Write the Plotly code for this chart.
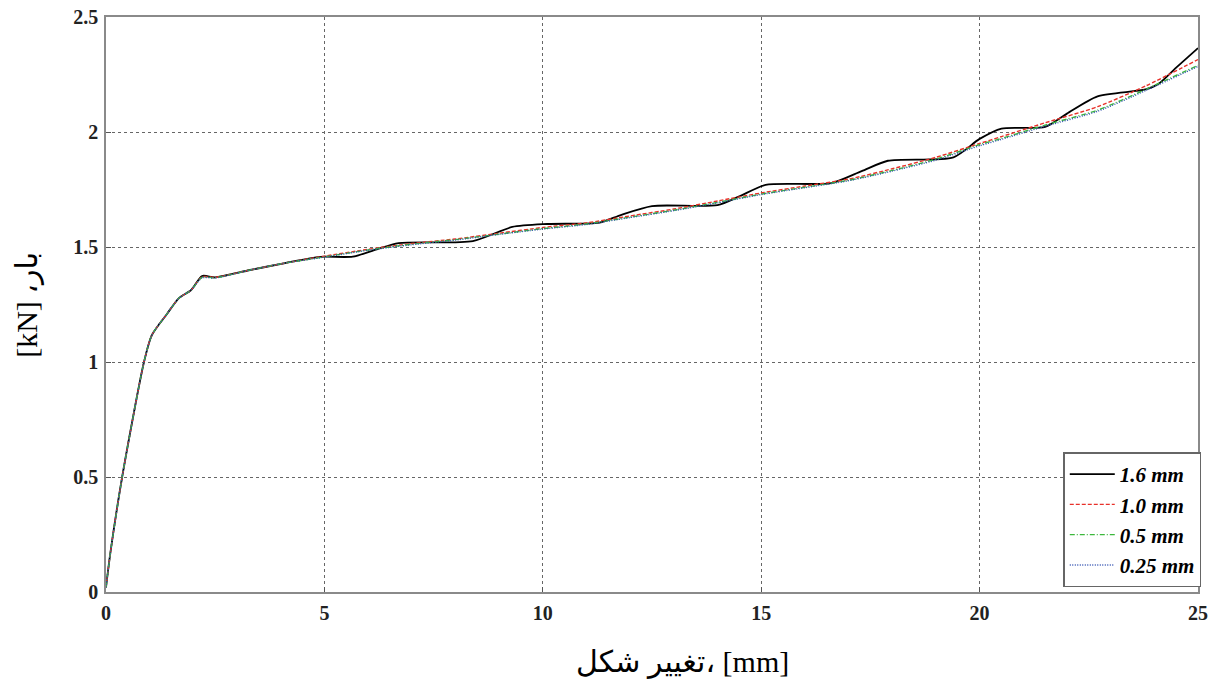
import plotly.graph_objects as go

# ---- data ----
x_16 = [0, 0.1, 0.37, 0.87, 1.05, 1.4, 1.67, 1.95, 2.2, 2.5, 3.3, 4.1, 4.9, 5.65, 6.2, 6.7, 8.4, 9.3,
        10.1, 11.3, 11.8, 12.5, 14.0, 14.5, 15.1, 16.6, 17.3, 17.9, 19.4, 20.0, 20.5, 21.5, 22.0,
        22.7, 23.8, 24.1, 24.5, 25.0]
y_16 = [0.02, 0.17, 0.5, 1.0, 1.117, 1.21, 1.278, 1.313, 1.374, 1.368, 1.40, 1.43, 1.457, 1.458, 1.49,
        1.517, 1.526, 1.587, 1.60, 1.606, 1.64, 1.678, 1.682, 1.72, 1.77, 1.778, 1.83, 1.875, 1.89,
        1.97, 2.015, 2.022, 2.08, 2.155, 2.185, 2.21, 2.28, 2.365]

x_10 = [0, 0.1, 0.37, 0.87, 1.05, 1.4, 1.67, 1.95, 2.2, 2.5, 3.3, 4.1, 5, 6, 7, 8, 9, 10, 11, 12,
        13, 14, 15, 16, 17, 18, 19, 20, 20.5, 21.5, 22.7, 23.8, 25]
y_10 = [0.02, 0.17, 0.5, 1.0, 1.117, 1.21, 1.278, 1.313, 1.37, 1.368, 1.40, 1.43, 1.46, 1.49, 1.515,
        1.535, 1.56, 1.585, 1.605, 1.635, 1.665, 1.70, 1.735, 1.765, 1.795, 1.84, 1.89, 1.95, 1.98,
        2.04, 2.11, 2.20, 2.315]

x_05 = [0, 0.1, 0.37, 0.87, 1.05, 1.4, 1.67, 1.95, 2.2, 2.5, 3.3, 4.1, 5, 6, 7, 8, 9, 10, 11, 12,
        13, 14, 15, 16, 17, 18, 19, 20, 20.5, 21.5, 22.7, 23.8, 25]
y_05 = [0.02, 0.17, 0.5, 1.0, 1.117, 1.21, 1.278, 1.313, 1.368, 1.366, 1.40, 1.43, 1.457, 1.487, 1.512,
        1.532, 1.556, 1.58, 1.60, 1.63, 1.66, 1.694, 1.73, 1.76, 1.79, 1.833, 1.882, 1.945, 1.972,
        2.03, 2.095, 2.185, 2.29]

x_025 = [0, 0.1, 0.37, 0.87, 1.05, 1.4, 1.67, 1.95, 2.2, 2.5, 3.3, 4.1, 5, 6, 7, 8, 9, 10, 11, 12,
         13, 14, 15, 16, 17, 18, 19, 20, 20.5, 21.5, 22.7, 23.8, 25]
y_025 = [0.02, 0.17, 0.5, 1.0, 1.117, 1.21, 1.278, 1.313, 1.366, 1.365, 1.40, 1.43, 1.456, 1.486, 1.51,
         1.53, 1.555, 1.578, 1.598, 1.628, 1.658, 1.692, 1.728, 1.758, 1.788, 1.83, 1.878, 1.94, 1.968,
         2.025, 2.09, 2.18, 2.285]

names = ["<b><i>1.6 mm</i></b>", "<b><i>1.0 mm</i></b>", "<b><i>0.5 mm</i></b>", "<b><i>0.25 mm</i></b>"]
x_ticks = [0, 5, 10, 15, 20, 25]
y_ticks = [0, 0.5, 1, 1.5, 2, 2.5]
y_tick_text = ["0", "0.5", "1", "1.5", "2", "2.5"]

serif = "Liberation Serif, Times New Roman, serif"

fig = go.Figure()
fig.add_trace(go.Scatter(x=x_16, y=y_16, mode="lines", name=names[0], line_shape="spline",
                         line=dict(color="black", width=1.8, dash="solid", smoothing=0.7)))
fig.add_trace(go.Scatter(x=x_10, y=y_10, mode="lines", name=names[1], line_shape="spline",
                         line=dict(color="#e8312a", width=1.4, dash="4px,2px", smoothing=0.7)))
fig.add_trace(go.Scatter(x=x_05, y=y_05, mode="lines", name=names[2], line_shape="spline",
                         line=dict(color="#3cb83c", width=1.4, dash="5px,2px,1px,2px", smoothing=0.7)))
fig.add_trace(go.Scatter(x=x_025, y=y_025, mode="lines", name=names[3], line_shape="spline",
                         line=dict(color="#3050b0", width=1.4, dash="1px,1.5px", smoothing=0.7)))

axis_common = dict(
    showline=True, linecolor="#8a8a8a", linewidth=1.5, mirror=True,
    ticks="inside", ticklen=5, tickcolor="#555",
    showgrid=True, gridcolor="#666", griddash="3px,3px", gridwidth=1,
    zeroline=False, automargin=False,
    tickfont=dict(family=serif, size=20, color="#222", weight="bold"),
)

fig.update_xaxes(range=[0, 25], tickvals=x_ticks, ticklabelstandoff=2, **axis_common)
fig.update_yaxes(range=[0, 2.5], tickvals=y_ticks, ticktext=y_tick_text, ticklabelstandoff=2, **axis_common)

fig.update_layout(
    width=1215, height=683,
    margin=dict(l=106, r=17, t=17, b=91, autoexpand=False),
    plot_bgcolor="white", paper_bgcolor="white",
    showlegend=True,
    legend=dict(x=1.003, y=0.008, xanchor="right", yanchor="bottom",
                bgcolor="white", bordercolor="#666", borderwidth=1.5,
                font=dict(family=serif, size=21, color="black"),
                tracegroupgap=0, itemwidth=45),
    annotations=[
        dict(text="تغيير شكل، [mm]", xref="paper", yref="paper", x=0.528, y=-0.122,
             xanchor="center", yanchor="middle", showarrow=False,
             font=dict(family="Liberation Serif, DejaVu Sans, serif", size=30, color="black")),
        dict(text="[kN] ،بار", xref="paper", yref="paper", x=-0.073, y=0.5,
             xanchor="center", yanchor="middle", showarrow=False, textangle=-90,
             font=dict(family="Liberation Serif, DejaVu Sans, serif", size=30, color="black")),
    ],
)

fig.write_html("out.html", config={"displayModeBar": False},
               post_script="document.body.style.margin='0';document.body.style.overflow='hidden';")
